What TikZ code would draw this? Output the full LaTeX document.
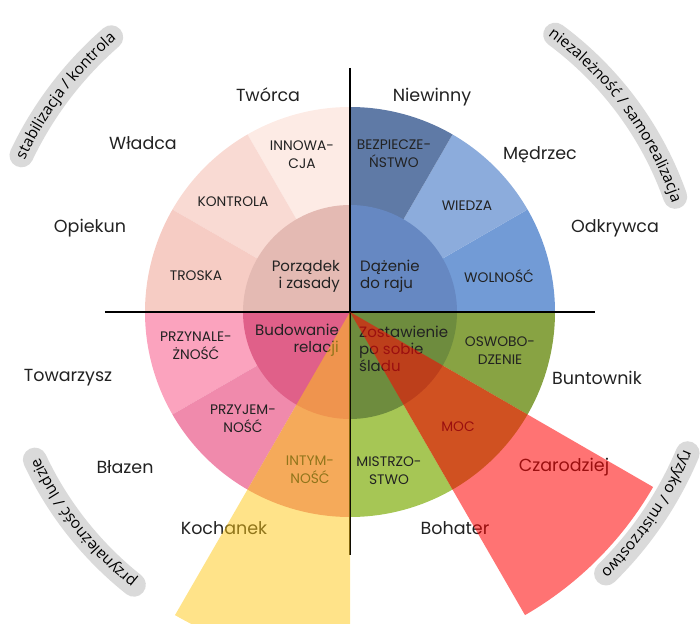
\documentclass[tikz,border=0pt]{standalone}
\usepackage{fontspec}
\setmainfont{Poppins}
\newfontfamily\bandfont{Open Sans}
\usetikzlibrary{decorations.text}
\definecolor{cWol}{HTML}{729BD6}
\definecolor{cWie}{HTML}{8CACDC}
\definecolor{cBez}{HTML}{5F7AA6}
\definecolor{cInn}{HTML}{FDEBE5}
\definecolor{cKon}{HTML}{F9DAD3}
\definecolor{cTro}{HTML}{F6CCC4}
\definecolor{cPrz}{HTML}{FBA3BE}
\definecolor{cPrj}{HTML}{F08AAC}
\definecolor{cInt}{HTML}{EB8CA2}
\definecolor{cMis}{HTML}{A6C655}
\definecolor{cMoc}{HTML}{97B54B}
\definecolor{cOsw}{HTML}{88A343}
\definecolor{qOne}{HTML}{6688C2}
\definecolor{qTwo}{HTML}{E4BAB3}
\definecolor{qThree}{HTML}{E06089}
\definecolor{qFour}{HTML}{6E8C3E}
\definecolor{yel}{RGB}{255,200,20}
\definecolor{bandgray}{HTML}{DADADA}
\definecolor{ink}{HTML}{222222}
\newcommand\mysector[3]{\fill[#3] (0,0) -- (#1:205) arc[start angle=#1,end angle=#2,radius=205] -- cycle;}
\newcommand\myquad[3]{\fill[#3] (0,0) -- (#1:107) arc[start angle=#1,end angle=#2,radius=107] -- cycle;}
\begin{document}
\begin{tikzpicture}[x=1pt,y=1pt,
  outer/.style={font=\fontsize{17.5}{20}\selectfont, text=ink, inner sep=0pt},
  seclab/.style={font=\fontsize{13.8}{18}\selectfont, align=center, text=ink, inner sep=0pt},
  inlab/.style={font=\fontsize{15}{17}\selectfont, text=ink, inner sep=0pt},
  axisline/.style={line width=2.2pt, black},
  band/.style={line width=24pt, line cap=round, draw=bandgray}]
\useasboundingbox (-350,-311) rectangle (350,312);
\clip (-350,-311) rectangle (350,312);
% sectors
\mysector{0}{30}{cWol}
\mysector{30}{60}{cWie}
\mysector{60}{90}{cBez}
\mysector{90}{120}{cInn}
\mysector{120}{150}{cKon}
\mysector{150}{180}{cTro}
\mysector{180}{210}{cPrz}
\mysector{210}{240}{cPrj}
\mysector{240}{270}{cInt}
\mysector{270}{300}{cMis}
\mysector{300}{330}{cMoc}
\mysector{330}{360}{cOsw}
% inner quadrants
\myquad{0}{90}{qOne}
\myquad{90}{180}{qTwo}
\myquad{180}{270}{qThree}
\myquad{270}{360}{qFour}
% axes
\coordinate (L) at (-245,0);
\coordinate (R) at (245,0);
\coordinate (T) at (0,244);
\coordinate (B) at (0,-243);
\draw[axisline] (L) -- (R);
\draw[axisline] (T) -- (B);
% sector labels
\node[seclab] (inn) at (-48,157) {INNOWA-\\CJA};
\node[seclab] (kon) at (-117,110) {KONTROLA};
\node[seclab] (tro) at (-154,36) {TROSKA};
\node[seclab] (bez) at (44,158) {BEZPIECZE-\\ŃSTWO};
\node[seclab] (wie) at (117,106) {WIEDZA};
\node[seclab] (wol) at (149,36) {WOLNOŚĆ};
\node[seclab] (prz) at (-154,-34) {PRZYNALE-\\ŻNOŚĆ};
\node[seclab] (prj) at (-107,-107) {PRZYJEM-\\NOŚĆ};
\node[seclab] (int) at (-40,-158) {INTYM-\\NOŚĆ};
\node[seclab] (osw) at (150,-39) {OSWOBO-\\DZENIE};
\node[seclab] (moc) at (108,-115) {MOC};
\node[seclab] (mis) at (39,-159) {MISTRZO-\\STWO};
% inner labels
\node[inlab, align=right, anchor=east] (por) at (-10,36) {Porządek\\i zasady};
\node[inlab, align=left, anchor=west] (daz) at (10,36) {Dążenie\\do raju};
\node[inlab, align=right, anchor=east] (bud) at (-11,-28) {Budowanie\\relacji};
\node[inlab, align=left, anchor=west] (zos) at (9,-36.5) {Zostawienie\\po sobie\\śladu};
% outer labels
\node[outer] (tw) at (-82,217) {Twórca};
\node[outer] (ni) at (82,215) {Niewinny};
\node[outer] (wl) at (-207,169) {Władca};
\node[outer] (me) at (190,157) {Mędrzec};
\node[outer] (op) at (-260,84) {Opiekun};
\node[outer] (od) at (265,84) {Odkrywca};
\node[outer] (to) at (-282,-66) {Towarzysz};
\node[outer] (bu) at (247,-66) {Buntownik};
\node[outer] (bl) at (-225,-155) {Błazen};
\node[outer] (cz) at (214,-155) {Czarodziej};
\node[outer] (ko) at (-126,-216) {Kochanek};
\node[outer] (bo) at (105,-216) {Bohater};
% translucent wedges
\fill[yel, opacity=0.5] (0,0) -- (240:350) arc[start angle=240,end angle=270,radius=350] -- cycle;
\fill[red, opacity=0.55] (0,0) -- (-60:350) arc[start angle=-60,end angle=-30,radius=350] -- cycle;
% curved bands
\draw[band] (154.5:364) arc[start angle=154.5,end angle=131,radius=364];
\path[decorate,decoration={text along path,text align=center,
  text={|\bandfont\fontsize{15.5}{16}\selectfont|stabilizacja / kontrola}}]
  (162.75:359) arc[start angle=162.75,end angle=122.75,radius=359];
\draw[band] (53.5:345) arc[start angle=53.5,end angle=19.5,radius=345];
\path[decorate,decoration={text along path,text align=center,
  text={|\bandfont\fontsize{15.5}{16}\selectfont|niezależność / samorealizacja}}]
  (61.5:340) arc[start angle=61.5,end angle=11.5,radius=340];
\draw[band] (231.6:348) arc[start angle=231.6,end angle=205.1,radius=348];
\path[decorate,decoration={text along path,text align=center,
  text={|\bandfont\fontsize{15.5}{16}\selectfont|przynależność / ludzie}}]
  (238.35:343) arc[start angle=238.35,end angle=198.35,radius=343];
\draw[band] (-22.7:366) arc[start angle=-22.7,end angle=-45.6,radius=366];
\path[decorate,decoration={text along path,text align=center,
  text={|\bandfont\fontsize{15.5}{16}\selectfont|ryzyko / mistrzostwo}}]
  (-14.15:361) arc[start angle=-14.15,end angle=-54.15,radius=361];
\end{tikzpicture}
\end{document}
